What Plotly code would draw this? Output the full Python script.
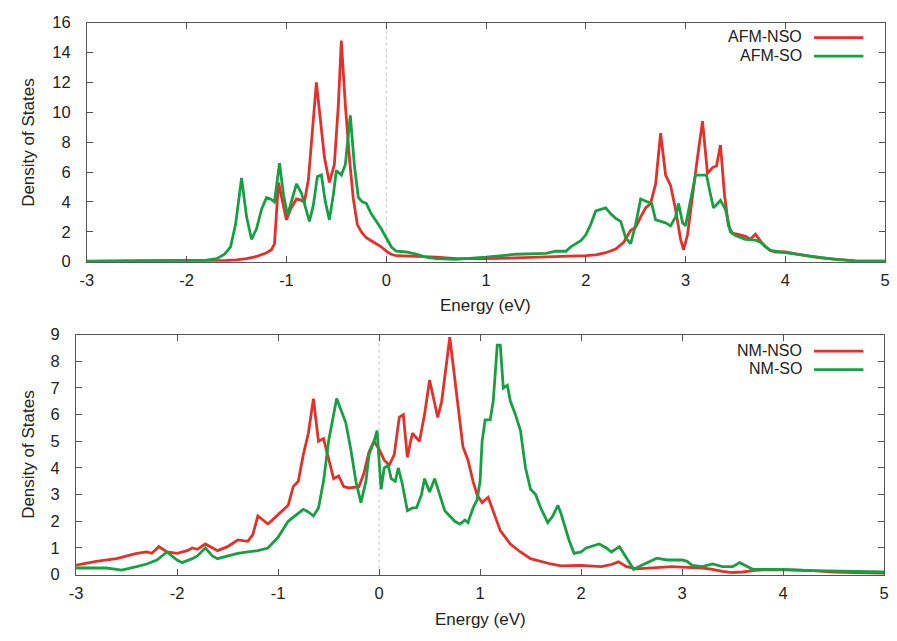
import plotly.graph_objects as go

# ---------------- data: DOS vs energy ----------------
# upper panel: antiferromagnetic, without / with spin-orbit coupling
afm_nso_e = [-3.0, -2.5, -2.0, -1.8, -1.6, -1.5, -1.4, -1.3, -1.2, -1.15, -1.12, -1.08, -1.04, -1.0,
             -0.96, -0.9, -0.85, -0.82, -0.78, -0.74, -0.7, -0.66, -0.62, -0.57, -0.52, -0.48, -0.45,
             -0.41, -0.37, -0.33, -0.29, -0.25, -0.2, -0.15, -0.1, -0.05, 0.0, 0.05, 0.1, 0.2, 0.3,
             0.5, 0.7, 1.0, 1.3, 1.5, 1.8, 2.0, 2.1, 2.2, 2.3, 2.38, 2.45, 2.5, 2.55, 2.6, 2.65, 2.7,
             2.75, 2.8, 2.85, 2.9, 2.95, 2.98, 3.02, 3.07, 3.12, 3.17, 3.22, 3.27, 3.31, 3.35, 3.39,
             3.43, 3.47, 3.52, 3.6, 3.65, 3.7, 3.75, 3.8, 3.85, 3.9, 4.0, 4.1, 4.2, 4.35, 4.5, 4.7, 5.0]
afm_nso_dos = [0.02, 0.03, 0.05, 0.06, 0.08, 0.12, 0.2, 0.35, 0.6, 0.8, 1.2, 5.3, 4.0, 2.8,
               3.5, 4.2, 4.1, 4.0, 5.5, 9.0, 12.0, 9.5, 7.0, 5.3, 6.5, 10.5, 14.8,
               10.5, 7.0, 4.2, 2.5, 2.0, 1.6, 1.4, 1.2, 1.0, 0.7, 0.5, 0.4, 0.4, 0.35,
               0.3, 0.2, 0.2, 0.25, 0.3, 0.35, 0.4, 0.45, 0.6, 0.85, 1.3, 2.1, 2.3, 3.0, 3.6, 3.9, 5.2,
               8.6, 5.8, 5.1, 3.5, 1.5, 0.8, 1.8, 4.5, 7.0, 9.4, 5.9, 6.3, 6.4, 7.8, 4.5,
               2.4, 1.9, 1.85, 1.7, 1.5, 1.85, 1.4, 1.0, 0.75, 0.65, 0.65, 0.55, 0.4, 0.25, 0.15, 0.06, 0.03]

afm_so_e = [-3.0, -2.5, -2.0, -1.8, -1.7, -1.62, -1.56, -1.51, -1.45, -1.4, -1.35, -1.3, -1.25, -1.2,
            -1.16, -1.12, -1.07, -1.03, -0.99, -0.95, -0.9, -0.85, -0.8, -0.77, -0.73, -0.69, -0.65,
            -0.61, -0.57, -0.53, -0.5, -0.45, -0.41, -0.36, -0.32, -0.28, -0.24, -0.2, -0.15, -0.1,
            -0.05, 0.0, 0.05, 0.1, 0.2, 0.3, 0.4, 0.5, 0.7, 1.0, 1.3, 1.6, 1.7, 1.8, 1.85, 1.95, 2.0,
            2.05, 2.1, 2.2, 2.25, 2.3, 2.35, 2.4, 2.45, 2.5, 2.55, 2.62, 2.66, 2.7, 2.8, 2.85, 2.9,
            2.93, 2.97, 3.0, 3.05, 3.1, 3.17, 3.21, 3.25, 3.28, 3.35, 3.4, 3.45, 3.5, 3.6, 3.7, 3.75,
            3.8, 3.85, 4.0, 4.2, 4.5, 4.7, 5.0]
afm_so_dos = [0.03, 0.04, 0.06, 0.1, 0.2, 0.5, 1.0, 2.5, 5.6, 3.0, 1.5, 2.2, 3.5, 4.3,
              4.2, 4.0, 6.6, 4.5, 3.1, 4.0, 5.2, 4.6, 3.5, 2.7, 3.8, 5.7, 5.8,
              4.0, 2.8, 4.5, 6.1, 5.8, 6.5, 9.8, 6.5, 4.3, 4.0, 3.9, 3.2, 2.7,
              2.2, 1.6, 1.0, 0.7, 0.65, 0.5, 0.3, 0.2, 0.15, 0.3, 0.5, 0.55, 0.7, 0.7, 1.0, 1.4, 1.8,
              2.5, 3.4, 3.6, 3.2, 2.9, 2.7, 1.6, 1.2, 2.5, 4.2, 4.0, 3.9, 2.8, 2.6, 2.4, 3.0,
              3.9, 2.6, 2.4, 4.0, 5.8, 5.8, 5.8, 4.5, 3.6, 4.1, 3.5, 2.0, 1.75, 1.5, 1.45, 1.3,
              1.0, 0.75, 0.6, 0.4, 0.15, 0.05, 0.04]

# lower panel: non-magnetic, without / with spin-orbit coupling
nm_nso_e = [-3.0, -2.8, -2.6, -2.5, -2.4, -2.3, -2.25, -2.18, -2.1, -2.0, -1.9, -1.85, -1.8, -1.72,
            -1.65, -1.6, -1.5, -1.4, -1.3, -1.25, -1.2, -1.1, -1.0, -0.9, -0.85, -0.8, -0.75, -0.7,
            -0.65, -0.6, -0.55, -0.5, -0.45, -0.4, -0.35, -0.3, -0.2, -0.15, -0.1, -0.05, 0.0, 0.05,
            0.1, 0.15, 0.2, 0.24, 0.28, 0.33, 0.4, 0.45, 0.5, 0.58, 0.62, 0.7, 0.78, 0.83, 0.88,
            0.93, 0.97, 1.02, 1.08, 1.12, 1.2, 1.3, 1.4, 1.5, 1.6, 1.7, 1.8, 2.0, 2.2, 2.3, 2.37,
            2.45, 2.55, 2.7, 2.9, 3.0, 3.2, 3.3, 3.4, 3.5, 3.6, 3.7, 3.8, 4.0, 4.3, 4.5, 5.0]
nm_nso_dos = [0.36, 0.5, 0.6, 0.7, 0.8, 0.85, 0.8, 1.05, 0.85, 0.8, 0.9, 1.0, 0.95, 1.15,
              1.0, 0.9, 1.05, 1.3, 1.25, 1.5, 2.2, 1.9, 2.25, 2.6, 3.3, 3.5, 4.5, 5.3,
              6.6, 5.0, 5.1, 4.3, 3.6, 3.7, 3.3, 3.25, 3.3, 3.8, 4.6, 5.0, 4.7, 4.3,
              4.1, 4.5, 5.9, 6.0, 4.4, 5.3, 5.0, 6.0, 7.3, 5.9, 6.5, 8.9, 6.5, 4.8, 4.3,
              3.5, 3.0, 2.7, 2.9, 2.5, 1.65, 1.15, 0.85, 0.6, 0.5, 0.4, 0.33, 0.35, 0.3, 0.38, 0.48,
              0.3, 0.22, 0.25, 0.3, 0.28, 0.25, 0.2, 0.12, 0.08, 0.1, 0.15, 0.18, 0.18, 0.15, 0.1, 0.05]

nm_so_e = [-3.0, -2.7, -2.6, -2.55, -2.4, -2.3, -2.2, -2.1, -2.0, -1.95, -1.85, -1.8, -1.72, -1.65,
           -1.6, -1.5, -1.4, -1.3, -1.2, -1.1, -1.0, -0.9, -0.85, -0.8, -0.75, -0.7, -0.65, -0.6,
           -0.55, -0.5, -0.45, -0.42, -0.38, -0.33, -0.28, -0.23, -0.18, -0.13, -0.1, -0.05, -0.02,
           0.02, 0.05, 0.09, 0.12, 0.16, 0.19, 0.23, 0.28, 0.33, 0.37, 0.42, 0.45, 0.5, 0.55, 0.6,
           0.65, 0.7, 0.75, 0.8, 0.85, 0.88, 0.93, 0.97, 1.0, 1.02, 1.05, 1.1, 1.13, 1.17, 1.2,
           1.23, 1.27, 1.3, 1.35, 1.4, 1.45, 1.5, 1.55, 1.6, 1.67, 1.72, 1.77, 1.8, 1.88, 1.93,
           2.0, 2.05, 2.1, 2.18, 2.25, 2.3, 2.38, 2.45, 2.52, 2.6, 2.7, 2.75, 2.85, 3.0, 3.05,
           3.1, 3.2, 3.3, 3.4, 3.5, 3.57, 3.65, 3.7, 3.8, 4.0, 4.3, 4.6, 5.0]
nm_so_dos = [0.25, 0.25, 0.2, 0.17, 0.3, 0.4, 0.55, 0.85, 0.55, 0.45, 0.6, 0.7, 1.0, 0.7,
             0.6, 0.7, 0.8, 0.85, 0.9, 1.0, 1.4, 2.0, 2.15, 2.3, 2.45, 2.35, 2.2, 2.5,
             3.5, 5.0, 6.0, 6.6, 6.2, 5.7, 4.7, 3.5, 2.7, 3.5, 4.5, 5.0, 5.4,
             3.2, 4.0, 4.1, 3.6, 3.5, 4.0, 3.4, 2.4, 2.5, 2.5, 3.0, 3.6, 3.1, 3.6, 3.0,
             2.4, 2.2, 2.0, 1.9, 2.05, 1.95, 2.5, 2.8, 3.5, 5.0, 5.8, 5.8, 6.5, 8.6, 8.6,
             7.0, 7.1, 6.5, 6.0, 5.4, 4.0, 3.2, 3.0, 2.5, 1.95, 2.2, 2.6, 2.3, 1.3, 0.8,
             0.85, 1.0, 1.05, 1.15, 1.0, 0.85, 1.05, 0.6, 0.2, 0.35, 0.55, 0.62, 0.55, 0.55, 0.5,
             0.35, 0.3, 0.4, 0.3, 0.3, 0.45, 0.3, 0.2, 0.2, 0.2, 0.15, 0.12, 0.1]

x_ticks = [-3, -2, -1, 0, 1, 2, 3, 4, 5]
x_tick_labels = ["-3", "-2", "-1", "0", "1", "2", "3", "4", "5"]

# ---------------- styling ----------------
W, H = 897, 641
RED = "#e5302a"
GREEN = "#17a043"
AXIS = "#555555"
TEXT = "#222222"
FONT = "Liberation Sans, Arial, sans-serif"
LW = 2.8


def px(x):  # horizontal pixel -> paper
    return x / W


def py(y):  # vertical pixel (from top) -> paper
    return 1 - y / H


fig = go.Figure()
fig.add_trace(go.Scatter(x=afm_nso_e, y=afm_nso_dos, mode="lines", name="AFM-NSO",
                         line=dict(color=RED, width=LW), xaxis="x", yaxis="y"))
fig.add_trace(go.Scatter(x=afm_so_e, y=afm_so_dos, mode="lines", name="AFM-SO",
                         line=dict(color=GREEN, width=LW), xaxis="x", yaxis="y"))
fig.add_trace(go.Scatter(x=nm_nso_e, y=nm_nso_dos, mode="lines", name="NM-NSO",
                         line=dict(color=RED, width=LW), xaxis="x2", yaxis="y2"))
fig.add_trace(go.Scatter(x=nm_so_e, y=nm_so_dos, mode="lines", name="NM-SO",
                         line=dict(color=GREEN, width=LW), xaxis="x2", yaxis="y2"))

axis_common = dict(showline=True, linecolor=AXIS, linewidth=1, mirror="allticks",
                   ticks="inside", ticklen=6, tickcolor=AXIS, tickwidth=1,
                   showgrid=False, zeroline=False,
                   tickfont=dict(family=FONT, size=16.5, color=TEXT))

fig.update_layout(
    width=W, height=H,
    margin=dict(l=0, r=0, t=0, b=0),
    paper_bgcolor="white", plot_bgcolor="white",
    showlegend=False,
    xaxis=dict(domain=[px(81), px(890)], range=[-3, 5], tickvals=x_ticks, ticktext=x_tick_labels,
               anchor="y", ticklabelstandoff=4, **axis_common),
    yaxis=dict(domain=[py(260), py(14)], range=[0, 16], dtick=2,
               anchor="x", ticklabelstandoff=12, **axis_common),
    xaxis2=dict(domain=[px(70), px(889)], range=[-3, 5], tickvals=x_ticks, ticktext=x_tick_labels,
                anchor="y2", ticklabelstandoff=4, **axis_common),
    yaxis2=dict(domain=[py(582), py(335)], range=[0, 9], dtick=1,
                anchor="x2", ticklabelstandoff=12, **axis_common),
)

# dotted line marking the Fermi level in both panels
fig.add_shape(type="line", xref="x", yref="y", x0=0, x1=0, y0=0, y1=16,
              line=dict(color="#c4c4c4", width=1, dash="dot"), layer="below")
fig.add_shape(type="line", xref="x2", yref="y2", x0=0, x1=0, y0=0, y1=9,
              line=dict(color="#c4c4c4", width=1, dash="dot"), layer="below")

# axis titles
title_font = dict(family=FONT, size=17, color=TEXT)
for yc in (137, 458):
    fig.add_annotation(text="Density of States", x=px(21), y=py(yc), xref="paper", yref="paper",
                       textangle=-90, showarrow=False, font=title_font,
                       xanchor="center", yanchor="middle")
fig.add_annotation(text="Energy (eV)", x=px(485), y=py(305), xref="paper", yref="paper",
                   showarrow=False, font=title_font, xanchor="center", yanchor="middle")
fig.add_annotation(text="Energy (eV)", x=px(480), y=py(628), xref="paper", yref="paper",
                   showarrow=False, font=title_font, xanchor="center", yanchor="middle")

# key: label right-aligned, line sample to its right
legend_font = dict(family=FONT, size=16, color=TEXT)
keys = [("AFM-NSO", RED, 29.5), ("AFM-SO", GREEN, 48.5),
        ("NM-NSO", RED, 352), ("NM-SO", GREEN, 371)]
for label, color, yk in keys:
    fig.add_annotation(text=label, x=px(807), y=py(yk - 1), xref="paper", yref="paper",
                       showarrow=False, font=legend_font, xanchor="right", yanchor="middle",
                       borderpad=0)
    fig.add_shape(type="line", xref="paper", yref="paper",
                  x0=px(818), x1=px(868), y0=py(yk), y1=py(yk),
                  line=dict(color=color, width=LW))

fig.write_html("out.html")
